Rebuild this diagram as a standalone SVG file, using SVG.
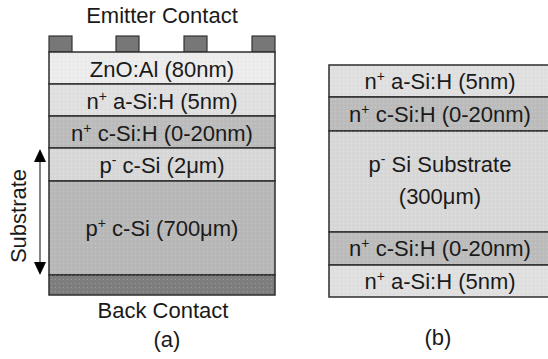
<svg xmlns="http://www.w3.org/2000/svg" width="548" height="359" viewBox="0 0 548 359">
  <defs>
    <pattern id="dots" width="4" height="4" patternUnits="userSpaceOnUse">
      <rect x="1" y="1" width="1" height="1" fill="#000" opacity="0.04"/>
      <rect x="3" y="3" width="1" height="1" fill="#fff" opacity="0.2"/>
    </pattern>
  </defs>
  <style>
    text { font-family: "Liberation Sans", Arial, sans-serif; font-size: 22px; fill: #1a1a1a; text-anchor: middle; }
    .layer { stroke: #2e2e2e; stroke-width: 1.5; }
    .tex { fill: url(#dots); stroke: none; }
    .contact { fill: #777; stroke: #333; stroke-width: 1.2; }
    .sup { font-size: 14px; }
    .zno { fill: #ececec; }
    .asi { fill: #e0e0e0; }
    .ncsi { fill: #bcbcbc; }
    .pm { fill: #d8d8d8; }
    .pp { fill: #b8b8b8; }
    .back { fill: #7e7e7e; }
  </style>

  <rect width="548" height="359" fill="#fff"/>

  <!-- Panel (a): heterojunction cell on thick p+ substrate -->
  <g id="panel-a">
    <g id="emitter-contacts">
      <rect class="contact" x="49" y="36" width="23" height="16"/>
      <rect class="contact" x="116" y="36" width="23" height="16"/>
      <rect class="contact" x="184" y="36" width="23" height="16"/>
      <rect class="contact" x="252" y="36" width="23" height="16"/>
    </g>
    <g id="a-zno">
      <rect class="layer zno" x="49" y="52" width="226" height="32"/>
      <rect class="tex" x="49" y="52" width="226" height="32"/>
      <text x="162" y="77">ZnO:Al (80nm)</text>
    </g>
    <g id="a-asi">
      <rect class="layer asi" x="49" y="84" width="226" height="32"/>
      <rect class="tex" x="49" y="84" width="226" height="32"/>
      <text x="162" y="109">n<tspan class="sup" dy="-8">+</tspan><tspan dy="8"> a-Si:H (5nm)</tspan></text>
    </g>
    <g id="a-ncsi">
      <rect class="layer ncsi" x="49" y="116" width="226" height="32"/>
      <rect class="tex" x="49" y="116" width="226" height="32"/>
      <text x="162" y="141">n<tspan class="sup" dy="-8">+</tspan><tspan dy="8"> c-Si:H (0-20nm)</tspan></text>
    </g>
    <g id="a-pminus">
      <rect class="layer pm" x="49" y="148" width="226" height="33"/>
      <rect class="tex" x="49" y="148" width="226" height="33"/>
      <text x="162" y="173">p<tspan class="sup" dy="-8">-</tspan><tspan dy="8"> c-Si (2μm)</tspan></text>
    </g>
    <g id="a-pplus">
      <rect class="layer pp" x="49" y="181" width="226" height="94"/>
      <rect class="tex" x="49" y="181" width="226" height="94"/>
      <text x="162" y="236">p<tspan class="sup" dy="-8">+</tspan><tspan dy="8"> c-Si (700μm)</tspan></text>
    </g>
    <g id="a-back">
      <rect class="layer back" x="49" y="275" width="226" height="20"/>
      <rect class="tex" x="49" y="275" width="226" height="20"/>
    </g>
    <text x="162" y="23">Emitter Contact</text>
    <text x="163" y="318">Back Contact</text>
    <text x="167" y="347">(a)</text>
    <text transform="translate(26 216) rotate(-90)">Substrate</text>
  </g>

  <!-- Connectors: double-headed substrate span arrow -->
  <g id="connectors">
    <line x1="40" y1="162" x2="40" y2="262" stroke="#333" stroke-width="1.2"/>
    <path d="M34,162 L40,149 L46,162 Z" fill="#000"/>
    <path d="M34,262 L40,275 L46,262 Z" fill="#000"/>
  </g>

  <!-- Panel (b): symmetric structure on p- substrate -->
  <g id="panel-b">
    <g id="b-asi-top">
      <rect class="layer asi" x="329" y="65" width="225" height="32"/>
      <rect class="tex" x="329" y="65" width="225" height="32"/>
      <text x="440" y="89">n<tspan class="sup" dy="-8">+</tspan><tspan dy="8"> a-Si:H (5nm)</tspan></text>
    </g>
    <g id="b-ncsi-top">
      <rect class="layer ncsi" x="329" y="97" width="225" height="34"/>
      <rect class="tex" x="329" y="97" width="225" height="34"/>
      <text x="440" y="122">n<tspan class="sup" dy="-8">+</tspan><tspan dy="8"> c-Si:H (0-20nm)</tspan></text>
    </g>
    <g id="b-substrate">
      <rect class="layer pm" x="329" y="131" width="225" height="101"/>
      <rect class="tex" x="329" y="131" width="225" height="101"/>
      <text x="440" y="172">p<tspan class="sup" dy="-8">-</tspan><tspan dy="8"> Si Substrate</tspan></text>
      <text x="440" y="204">(300μm)</text>
    </g>
    <g id="b-ncsi-bottom">
      <rect class="layer ncsi" x="329" y="232" width="225" height="33"/>
      <rect class="tex" x="329" y="232" width="225" height="33"/>
      <text x="440" y="256">n<tspan class="sup" dy="-8">+</tspan><tspan dy="8"> c-Si:H (0-20nm)</tspan></text>
    </g>
    <g id="b-asi-bottom">
      <rect class="layer asi" x="329" y="265" width="225" height="32"/>
      <rect class="tex" x="329" y="265" width="225" height="32"/>
      <text x="440" y="289">n<tspan class="sup" dy="-8">+</tspan><tspan dy="8"> a-Si:H (5nm)</tspan></text>
    </g>
    <text x="438" y="345">(b)</text>
  </g>
</svg>
